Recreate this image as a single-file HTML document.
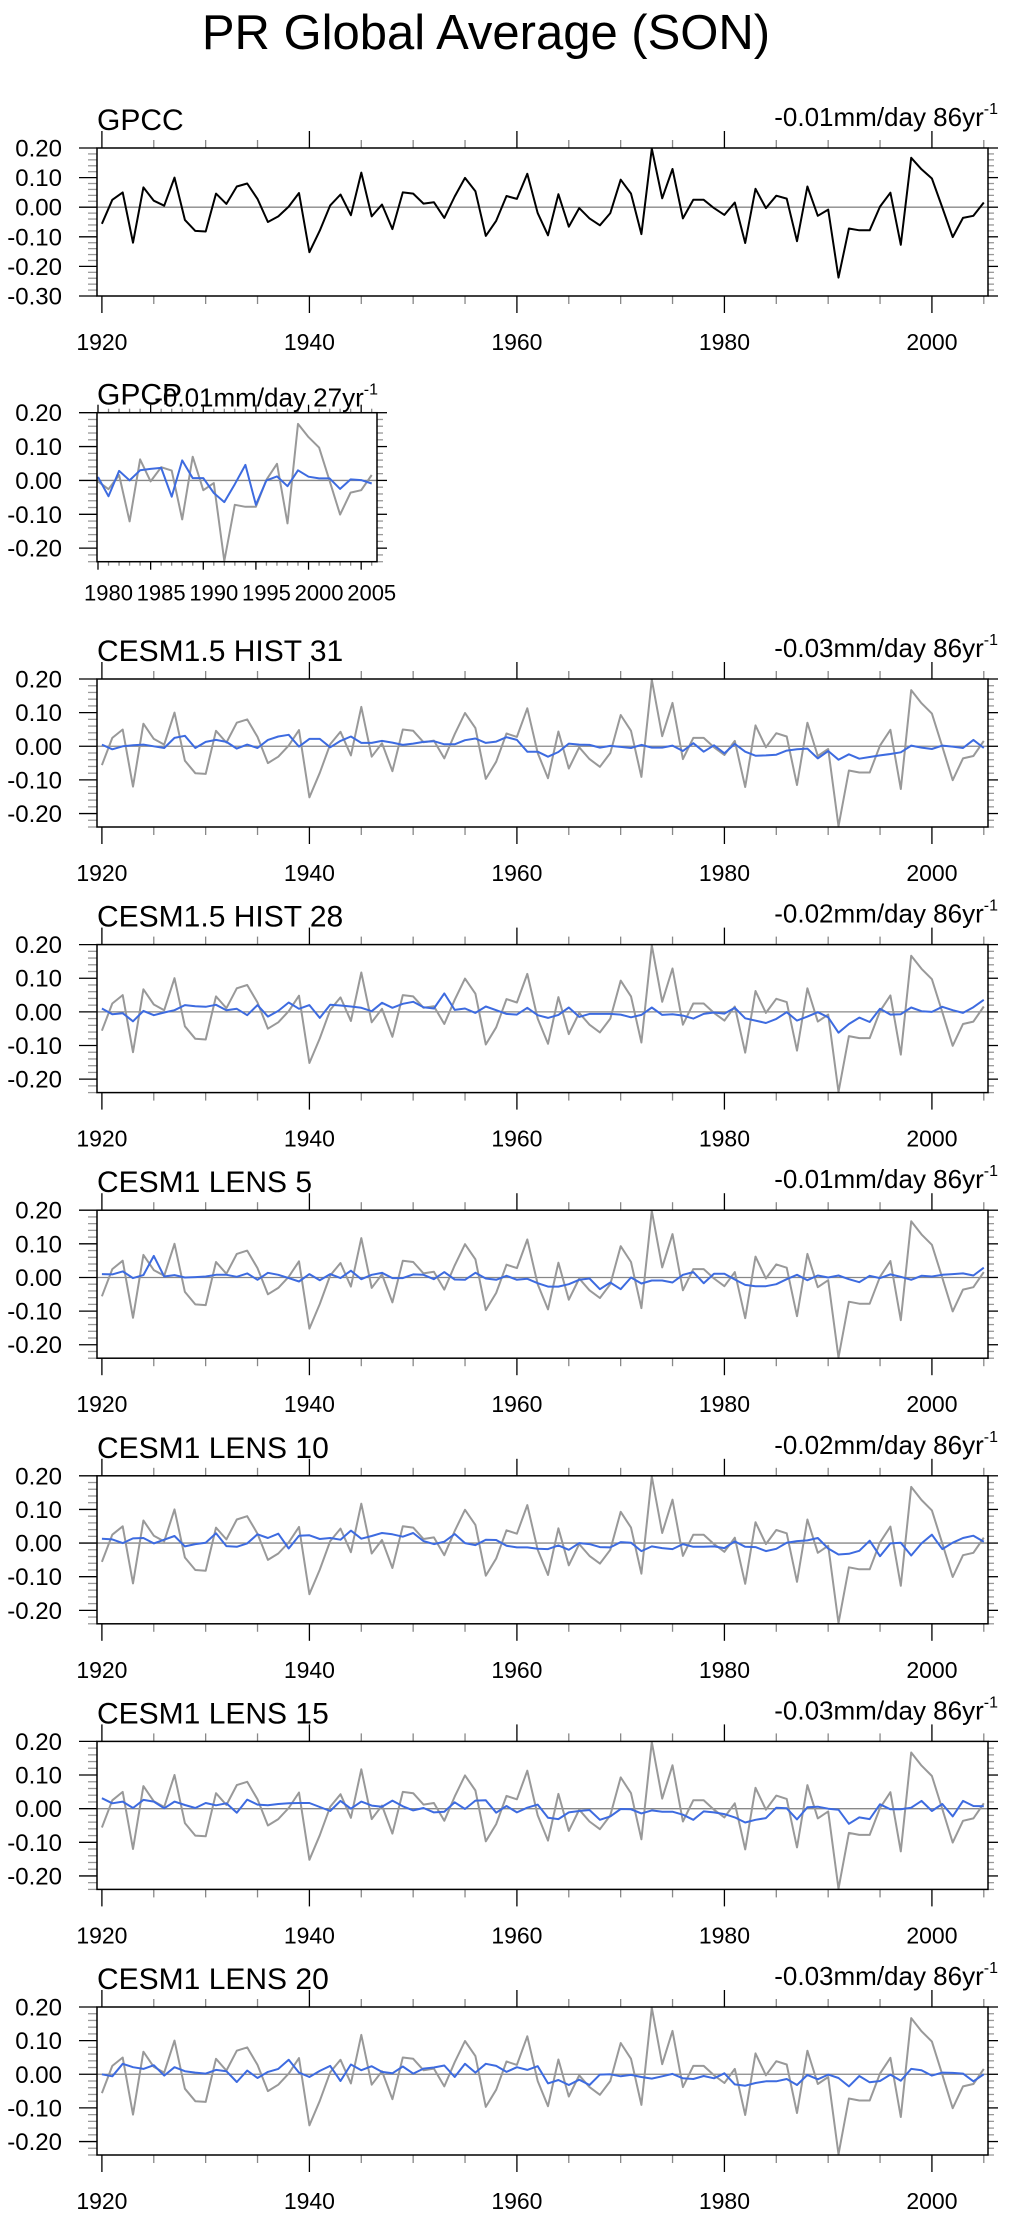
<!DOCTYPE html>
<html><head><meta charset="utf-8"><title>PR Global Average (SON)</title>
<style>
html,body{margin:0;padding:0;background:#fff;}
svg{display:block;font-family:"Liberation Sans",Arial,sans-serif;}
</style></head>
<body>
<svg id="chart" width="1015" height="2217" viewBox="0 0 1015 2217" xmlns="http://www.w3.org/2000/svg">
<rect x="0" y="0" width="1015" height="2217" fill="#fff"/>
<text x="486" y="49" font-size="49" text-anchor="middle" fill="#000">PR Global Average (SON)</text>
</svg>
<script>
const startYear = 1920;
const gpcc = [-0.056,0.025,0.05,-0.12,0.067,0.022,0.005,0.10,-0.043,-0.08,-0.082,0.046,0.011,0.07,0.08,0.028,-0.05,-0.031,0.002,0.048,
-0.152,-0.079,0.006,0.043,-0.027,0.117,-0.031,0.009,-0.074,0.05,0.046,0.012,0.017,-0.036,0.036,0.099,0.054,-0.097,-0.046,0.038,
0.028,0.113,-0.02,-0.095,0.044,-0.066,-0.003,-0.038,-0.061,-0.02,0.093,0.046,-0.091,0.198,0.03,0.129,-0.038,0.025,0.025,-0.003,
-0.026,0.016,-0.121,0.062,-0.003,0.039,0.029,-0.115,0.07,-0.029,-0.008,-0.238,-0.072,-0.078,-0.078,0.002,0.049,-0.127,0.167,0.128,
0.097,-0.001,-0.101,-0.036,-0.029,0.016];
const gpcpStart = 1979;
const gpcp = [0.01,-0.047,0.028,0,0.03,0.034,0.037,-0.048,0.059,0.007,0.007,-0.037,-0.064,-0.011,0.046,-0.072,0,0.012,-0.017,0.03,0.011,0.006,0.006,-0.025,0.003,0.001,-0.009];
const hist31 = [0.005,-0.009,0,0.003,0.005,0,-0.005,0.025,0.031,-0.005,0.013,0.019,0.013,-0.007,0.005,-0.005,0.019,0.029,0.034,-0.001,
0.022,0.022,-0.003,0.016,0.029,0.01,0.01,0.016,0.011,0.004,0.008,0.013,0.015,0.006,0.006,0.018,0.023,0.01,0.014,0.027,
0.019,-0.016,-0.016,-0.031,-0.017,0.008,0.005,0.004,-0.004,0.001,-0.002,-0.005,0.004,-0.004,-0.004,0.002,-0.014,0.009,-0.016,0.003,
-0.021,0.007,-0.016,-0.028,-0.027,-0.025,-0.013,-0.009,-0.007,-0.036,-0.014,-0.04,-0.024,-0.037,-0.032,-0.027,-0.023,-0.018,0.002,-0.004,
-0.008,0.002,-0.001,-0.005,0.019,-0.005];
const hist28 = [0.01,-0.007,-0.004,-0.028,0.003,-0.01,-0.002,0.005,0.02,0.017,0.015,0.021,0.005,0.009,-0.01,0.02,-0.014,0.003,0.028,0.009,
0.02,-0.018,0.021,0.019,0.016,0.012,0.002,0.027,0.012,0.024,0.03,0.014,0.01,0.055,0.006,0.01,-0.003,0.016,0.005,-0.006,
-0.008,0.012,-0.01,-0.018,-0.009,0.013,-0.015,-0.006,-0.006,-0.006,-0.008,-0.016,-0.009,0.013,-0.009,-0.007,-0.011,-0.02,-0.006,-0.002,
-0.005,0.012,-0.019,-0.026,-0.033,-0.021,-0.001,-0.026,-0.014,-0.001,-0.016,-0.062,-0.036,-0.017,-0.03,0.009,-0.008,-0.007,0.013,0.002,
0,0.015,0.005,-0.003,0.014,0.036];
const lens5 = [0.01,0.009,0.018,-0.002,0.007,0.064,0.003,0.007,0,0.001,0.003,0.008,0.008,0.002,0.012,-0.007,0.014,0.008,-0.002,-0.012,
0.01,-0.008,0.01,-0.002,0.02,-0.005,0.008,0.014,-0.002,-0.002,0.009,0.008,-0.005,0.016,-0.006,-0.007,0.014,-0.003,-0.007,0.005,
-0.007,-0.004,-0.017,-0.027,-0.027,-0.02,-0.007,-0.003,-0.035,-0.015,-0.035,0,-0.018,-0.009,-0.009,-0.015,0.008,0.016,-0.017,0.011,
0.011,-0.006,-0.022,-0.026,-0.026,-0.02,-0.005,0.008,-0.008,0.006,0,0.006,-0.005,-0.014,0.005,-0.002,0.009,0.002,-0.007,0.005,
0.003,0.008,0.01,0.012,0.006,0.029];
const lens10 = [0.013,0.011,0,0.014,0.015,-0.001,0.01,0.021,-0.01,-0.003,0.001,0.029,-0.009,-0.011,-0.001,0.026,0.015,0.028,-0.016,0.022,
0.023,0.012,0.015,0.01,0.037,0.013,0.021,0.03,0.026,0.019,0.03,0.006,-0.003,0.004,0.027,0,-0.006,0.01,0.009,-0.008,
-0.013,-0.013,-0.017,-0.018,-0.007,-0.02,0,-0.003,-0.012,-0.013,0.003,0.001,-0.024,-0.01,-0.015,-0.018,-0.003,-0.011,-0.011,-0.01,
-0.015,0.005,-0.011,-0.012,-0.024,-0.017,0.001,0.006,0.008,0.015,-0.016,-0.034,-0.032,-0.023,0.007,-0.039,-0.001,0.001,-0.037,-0.001,
0.025,-0.018,0.001,0.015,0.022,0.004];
const lens15 = [0.031,0.016,0.021,0.002,0.026,0.021,0.001,0.021,0.011,0.002,0.017,0.01,0.016,-0.012,0.027,0.012,0.01,0.014,0.016,0.017,
0.017,0.005,-0.007,0.023,0,0.021,0.009,0.006,0.024,0.007,-0.005,0.002,-0.011,-0.009,0.019,-0.001,0.024,0.025,-0.012,0.008,
-0.011,0.003,0.012,-0.027,-0.031,-0.011,-0.007,-0.004,-0.033,-0.023,-0.001,-0.002,-0.014,-0.005,-0.009,-0.009,-0.018,-0.033,-0.008,-0.011,
-0.016,-0.026,-0.041,-0.033,-0.028,0.003,0.001,-0.032,0.004,0.006,0,-0.003,-0.045,-0.026,-0.031,0.013,-0.002,-0.002,0.003,0.023,
-0.007,0.014,-0.023,0.023,0.008,0.007];
const lens20 = [0,-0.006,0.031,0.021,0.016,0.027,-0.004,0.021,0.009,0.005,0.002,0.013,0.009,-0.023,0.011,-0.011,0.007,0.016,0.043,0.005,
-0.008,0.01,0.025,-0.02,0.029,0.012,0.024,0.007,0.003,0.023,0.002,0.017,0.02,0.026,-0.008,0.031,0.005,0.031,0.025,0.007,
0.021,0.013,0.024,-0.027,-0.017,-0.032,-0.016,-0.032,-0.001,0,-0.006,-0.002,-0.008,-0.013,-0.006,0.001,-0.012,-0.014,-0.005,-0.012,
0.003,-0.03,-0.034,-0.026,-0.021,-0.021,-0.014,-0.032,-0.002,-0.015,-0.001,-0.011,-0.036,-0.005,-0.024,-0.02,-0.001,-0.019,0.016,0.012,
-0.004,0.005,0.004,0.002,-0.021,0];
const panelTitles = ["CESM1.5 HIST 31","CESM1.5 HIST 28","CESM1 LENS 5","CESM1 LENS 10","CESM1 LENS 15","CESM1 LENS 20"];
const panelTrends = ["-0.03mm/day 86yr","-0.02mm/day 86yr","-0.01mm/day 86yr","-0.02mm/day 86yr","-0.03mm/day 86yr","-0.03mm/day 86yr"];
const panelSeries = [hist31,hist28,lens5,lens10,lens15,lens20];
const yTicksMain = [0.20,0.10,0.00,-0.10,-0.20,-0.30];
const yTicksModel = [0.20,0.10,0.00,-0.10,-0.20];
const xTickLabelsMain = [1920,1940,1960,1980,2000];
const xTickLabelsGpcp = [1980,1985,1990,1995,2000,2005];

const NS = "http://www.w3.org/2000/svg";
const svg = document.getElementById("chart");
function mk(tag, attrs, parent){
  const e = document.createElementNS(NS, tag);
  for (const k in attrs) e.setAttribute(k, attrs[k]);
  (parent||svg).appendChild(e);
  return e;
}
function drawPanel(p){
  const g = mk("g", {});
  
  
  const X = yr => p.x0 + (yr - p.yr0) * (p.x1 - p.x0) / (p.yr1 - p.yr0);
  const Y = v => p.top + (p.ymax - v) * (p.bottom - p.top) / (p.ymax - p.ymin);
  for (let i = Math.round(p.ymin*50); i <= Math.round(p.ymax*50); i++) {
    const v = i/50, y = Y(v), major = (i % 5 === 0);
    const t1 = mk("line", {x1:p.fl-(major?18:9), x2:p.fl, y1:y, y2:y, stroke: major?"#000":"#999", "stroke-width":1.3}, g);
    
    
    const t2 = mk("line", {x1:p.fr, x2:p.fr+(major?10:6), y1:y, y2:y, stroke: major?"#000":"#999", "stroke-width":1.3}, g);
    
    
  }
  p.yLabels.forEach(v => {
    const t = mk("text", {x:p.fl-35, y:Y(v)+8.5, "font-size":24, "text-anchor":"end", fill:"#000"}, g);
    
    
    t.textContent = v.toFixed(2);
  });
  for (let yr = p.yr0; yr <= p.yr1; yr += p.minorStep) {
    const x = X(yr), major = ((yr - p.yr0) % p.majorStep === 0);
    const L = major ? p.majLen : p.minLen;
    const a = mk("line", {x1:x, x2:x, y1:p.top-L, y2:p.top, stroke: major?"#000":"#888", "stroke-width":1.3}, g);
    
    
    const b = mk("line", {x1:x, x2:x, y1:p.bottom, y2:p.bottom+L, stroke: major?"#000":"#888", "stroke-width":1.3}, g);
    
    
  }
  p.xLabels.forEach(yr => {
    const t = mk("text", {x:X(yr), y:p.bottom+p.xLabOff, "font-size":p.xFont, "text-anchor":"middle", fill:"#000"}, g);
    
    
    t.textContent = yr;
  });
  const z = mk("line", {x1:p.fl, x2:p.fr, y1:Y(0), y2:Y(0), stroke:"#888", "stroke-width":1.3}, g);
  
  
  p.series.forEach(s => {
    const pts = s.values.map((v,i) => X(s.start+i).toFixed(1)+","+Y(v).toFixed(1)).join(" ");
    const pl = mk("polyline", {points:pts, fill:"none", stroke:s.color, "stroke-width":2, "stroke-linejoin":"round"}, g);
    
    
  });
  const fr = mk("rect", {x:p.fl, y:p.top, width:p.fr-p.fl, height:p.bottom-p.top, fill:"none", stroke:"#000", "stroke-width":1.5}, g);
  
  
  const tl = mk("text", {x:p.fl, y:p.top-p.titleOff, "font-size":30, fill:"#000"}, g);
  
  
  tl.textContent = p.title;
  const tr = mk("text", {x:p.trendX, y:p.top-p.trendOff, "font-size":26, "text-anchor":"end", fill:"#000"}, g);
  
  
  tr.appendChild(document.createTextNode(p.trend));
  const sup = mk("tspan", {"font-size":16, dy:-12}, tr);
  sup.textContent = "-1";
}
drawPanel({name:"gpcc-panel", title:"GPCC", trend:"-0.01mm/day 86yr", trendX:998, titleOff:18, trendOff:22,
  top:148, bottom:296, fl:97, fr:988, x0:101.9, x1:983.8, yr0:1920, yr1:2005, majLen:17, minLen:8,
  ymin:-0.30, ymax:0.20, yLabels:yTicksMain, xLabels:xTickLabelsMain, minorStep:5, majorStep:20, xLabOff:54, xFont:23,
  series:[{name:"gpcc-line", values:gpcc, start:startYear, color:"#000"}]});
drawPanel({name:"gpcp-panel", title:"GPCP", trend:"-0.01mm/day 27yr", trendX:378, titleOff:8, trendOff:6,
  top:412.7, bottom:561.7, fl:97, fr:377, x0:98, x1:371.7, yr0:1979, yr1:2005, majLen:8, minLen:4,
  ymin:-0.24, ymax:0.20, yLabels:yTicksModel, xLabels:xTickLabelsGpcp, minorStep:1, majorStep:5, xLabOff:39, xFont:22,
  series:[{name:"gpcc-reference-line", values:gpcc.slice(gpcpStart-startYear), start:gpcpStart, color:"#999"},
          {name:"gpcp-line", values:gpcp, start:gpcpStart, color:"#3d6be0"}]});
panelSeries.forEach((vals, k) => {
  const top = 679 + k*265.6;
  drawPanel({name:"model-panel-"+(k+1), title:panelTitles[k], trend:panelTrends[k], trendX:998, titleOff:18, trendOff:22,
    top:top, bottom:top+148, fl:97, fr:988, x0:101.9, x1:983.8, yr0:1920, yr1:2005, majLen:17, minLen:8,
    ymin:-0.24, ymax:0.20, yLabels:yTicksModel, xLabels:xTickLabelsMain, minorStep:5, majorStep:20, xLabOff:54, xFont:23,
    series:[{name:"gpcc-reference-line", values:gpcc, start:startYear, color:"#999"},
            {name:"model-line", values:vals, start:startYear, color:"#3d6be0"}]});
});
</script>
</body></html>
